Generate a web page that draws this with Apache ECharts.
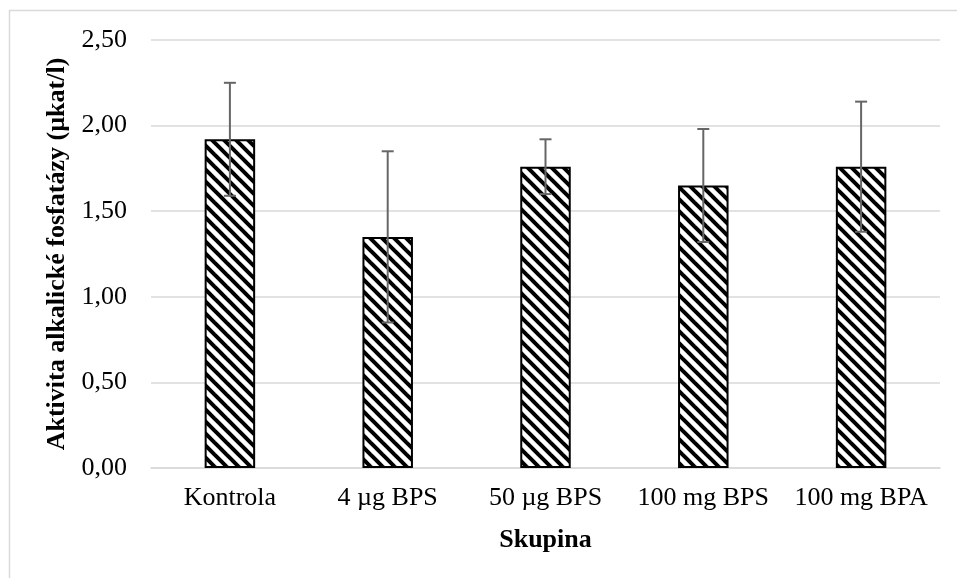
<!DOCTYPE html>
<html>
<head>
<meta charset="utf-8">
<script src="https://cdn.jsdelivr.net/npm/echarts@6/dist/echarts.min.js"></script>
<style>
  html, body { margin: 0; padding: 0; background: #fff; }
  #chart { width: 957px; height: 578px; }
</style>
</head>
<body>
<div id="chart"></div>
<script>
const categories = ['Kontrola', '4 µg BPS', '50 µg BPS', '100 mg BPS', '100 mg BPA']
const means = [1.92, 1.35, 1.76, 1.65, 1.76]
const sds = [0.33, 0.50, 0.16, 0.33, 0.38]
const yTicks = { min: 0, max: 2.5, interval: 0.5 }

// diagonal hatch
function makeHatch () {
  const c = document.createElement('canvas')
  c.width = 12
  c.height = 12
  const ctx = c.getContext('2d')
  ctx.fillStyle = '#fff'
  ctx.fillRect(0, 0, 12, 12)
  ctx.strokeStyle = '#000'
  ctx.lineWidth = 4
  for (let k = -1; k <= 1; k++) {
    ctx.beginPath()
    ctx.moveTo(k * 12 - 2, -2)
    ctx.lineTo(k * 12 + 14, 14)
    ctx.stroke()
  }
  return c
}

const font = 'Liberation Serif'
const chart = echarts.init(document.getElementById('chart'))
const errData = means.map((m, i) => [i, m - sds[i], m + sds[i]])

chart.setOption({
  animation: false,
  graphic: [{
    type: 'rect',
    shape: { x: 9.5, y: 10.5, width: 1200, height: 1200 },
    style: { fill: 'none', stroke: '#d9d9d9', lineWidth: 1.5 },
    silent: true
  }],
  grid: { left: 151, right: 17, top: 40, bottom: 110 },
  xAxis: {
    type: 'category',
    data: categories,
    name: 'Skupina',
    nameLocation: 'middle',
    nameGap: 59,
    nameTextStyle: { fontFamily: font, fontSize: 26, fontWeight: 'bold', color: '#000' },
    axisLine: { lineStyle: { color: '#d9d9d9', width: 1.5 } },
    axisTick: { show: false },
    axisLabel: { fontFamily: font, fontSize: 26, color: '#000', margin: 17, interval: 0 }
  },
  yAxis: {
    type: 'value',
    min: yTicks.min,
    max: yTicks.max,
    interval: yTicks.interval,
    name: 'Aktivita alkalické fosfatázy (µkat/l)',
    nameLocation: 'middle',
    nameGap: 76,
    nameTextStyle: { fontFamily: font, fontSize: 26, fontWeight: 'bold', color: '#000' },
    axisLine: { show: false },
    axisTick: { show: false },
    splitLine: { lineStyle: { color: '#d9d9d9', width: 1.5 } },
    axisLabel: {
      fontFamily: font, fontSize: 26, color: '#000', margin: 24,
      formatter: v => v.toFixed(2).replace('.', ',')
    }
  },
  series: [{
    type: 'bar',
    data: means,
    barWidth: '32%',
    itemStyle: {
      color: { image: makeHatch(), repeat: 'repeat' },
      borderColor: '#000',
      borderWidth: 2
    }
  }, {
    type: 'custom',
    data: errData,
    z: 10,
    renderItem: (params, api) => {
      const lo = api.coord([api.value(0), api.value(1)])
      const hi = api.coord([api.value(0), api.value(2)])
      const w = 6
      const st = { stroke: '#666', lineWidth: 2 }
      return {
        type: 'group',
        children: [
          { type: 'line', shape: { x1: hi[0], y1: hi[1], x2: lo[0], y2: lo[1] }, style: st },
          { type: 'line', shape: { x1: hi[0] - w, y1: hi[1], x2: hi[0] + w, y2: hi[1] }, style: st },
          { type: 'line', shape: { x1: lo[0] - w, y1: lo[1], x2: lo[0] + w, y2: lo[1] }, style: st }
        ]
      }
    }
  }]
})
</script>
</body>
</html>
